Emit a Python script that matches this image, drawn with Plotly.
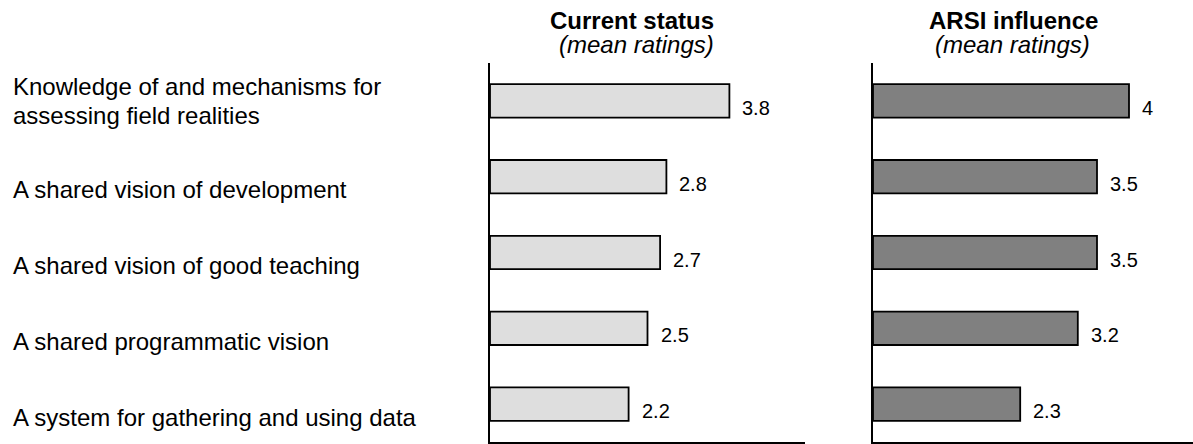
import plotly.graph_objects as go

categories = [
    "Knowledge of and mechanisms for<br>assessing field realities",
    "A shared vision of development",
    "A shared vision of good teaching",
    "A shared programmatic vision",
    "A system for gathering and using data",
]
current_status = [3.8, 2.8, 2.7, 2.5, 2.2]
arsi_influence = [4, 3.5, 3.5, 3.2, 2.3]
panel_titles = ["Current status", "ARSI influence"]
panel_subtitle = "(mean ratings)"

W, H = 1193, 444
FONT = "Arial, Liberation Sans, Helvetica, sans-serif"

def px(x):
    return x / W

def py(y):
    return 1 - y / H

ypos = list(range(len(categories)))

fig = go.Figure()
fig.add_trace(go.Bar(
    x=current_status, y=ypos, orientation="h", width=0.44,
    marker=dict(color="#dedede", line=dict(color="#000000", width=1.8)),
    xaxis="x", yaxis="y", hoverinfo="skip", showlegend=False,
))
fig.add_trace(go.Bar(
    x=arsi_influence, y=ypos, orientation="h", width=0.44,
    marker=dict(color="#808080", line=dict(color="#000000", width=1.8)),
    xaxis="x2", yaxis="y2", hoverinfo="skip", showlegend=False,
))

annotations = []
# value labels
for xa, ya, vals in (("x", "y", current_status), ("x2", "y2", arsi_influence)):
    for i, v in enumerate(vals):
        annotations.append(dict(
            x=v, y=i, xref=xa, yref=ya, text=f"{v:g}", showarrow=False,
            xanchor="left", yanchor="middle", xshift=11, yshift=-7,
            font=dict(family=FONT, size=20, color="#000000"),
        ))

# category labels
for i, lab in enumerate(categories):
    lines = lab.split("<br>")
    n = len(lines)
    for j, line in enumerate(lines):
        if n == 1:
            shift = -13
        else:
            shift = (n - 1) * 14.5 - j * 29
        annotations.append(dict(
            x=px(11), y=i, xref="paper", yref="y", text=line, showarrow=False,
            xanchor="left", yanchor="middle", yshift=shift,
            font=dict(family=FONT, size=24, color="#000000"),
        ))

# panel titles
title_centers = [632, 1014]
sub_centers = [636, 1012]
for t, cx, sx in zip(panel_titles, title_centers, sub_centers):
    annotations.append(dict(
        x=px(cx), y=py(21), xref="paper", yref="paper", text=f"<b>{t}</b>",
        showarrow=False, xanchor="center", yanchor="middle",
        font=dict(family=FONT, size=24, color="#000000"),
    ))
    annotations.append(dict(
        x=px(sx), y=py(45), xref="paper", yref="paper", text=f"<i>{panel_subtitle}</i>",
        showarrow=False, xanchor="center", yanchor="middle",
        font=dict(family=FONT, size=24, color="#000000"),
    ))

axis_common = dict(showgrid=False, zeroline=False, showticklabels=False, ticks="",
                   showline=True, linecolor="#000000", linewidth=1.5, fixedrange=True)

fig.update_layout(
    width=W, height=H,
    margin=dict(l=0, r=0, t=0, b=0),
    paper_bgcolor="#ffffff", plot_bgcolor="#ffffff",
    bargap=0.56,
    xaxis=dict(domain=[px(490), px(805)], range=[0, 5], anchor="y", **axis_common),
    xaxis2=dict(domain=[px(873), 1.0], range=[0, 5], anchor="y2", **axis_common),
    yaxis=dict(domain=[py(442), py(63)], range=[4.5, -0.5], anchor="x", **axis_common),
    yaxis2=dict(domain=[py(442), py(63)], range=[4.5, -0.5], anchor="x2", **axis_common),
    annotations=annotations,
    font=dict(family=FONT),
)

fig.write_html("out.html", config={"displayModeBar": False})
